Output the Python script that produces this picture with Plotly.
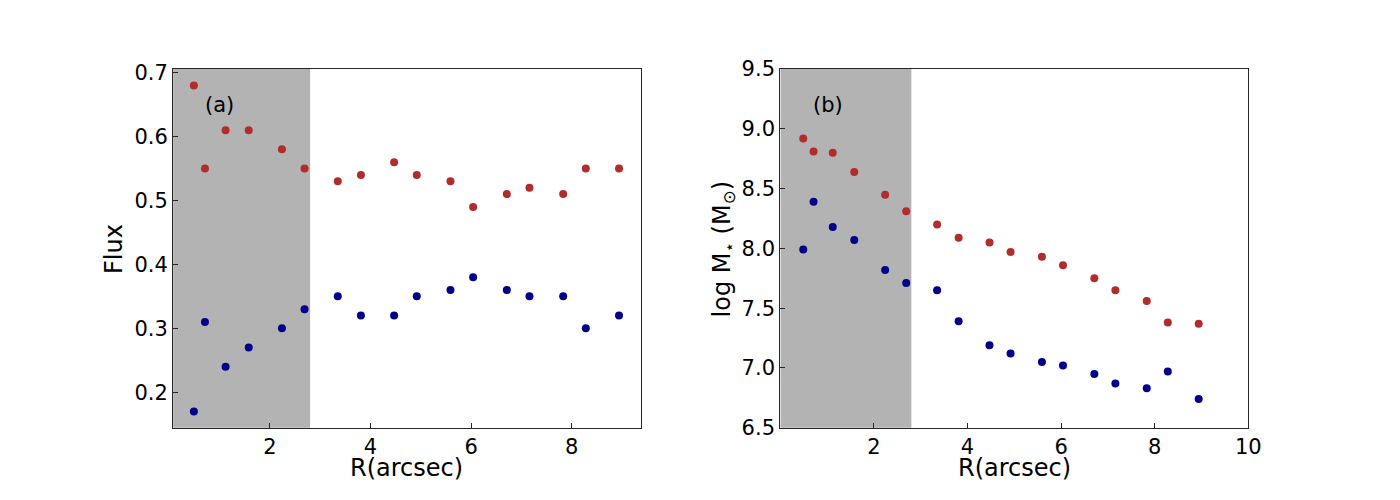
import plotly.graph_objs as go

# radius of each annulus (arcsec), shared by both panels
radius = [0.49, 0.71, 1.12, 1.58, 2.24, 2.69, 3.35, 3.81, 4.47, 4.92,
          5.59, 6.04, 6.71, 7.16, 7.83, 8.28, 8.94]

# panel (a): flux
flux_red = [0.68, 0.55, 0.61, 0.61, 0.58, 0.55, 0.53, 0.54, 0.56, 0.54,
            0.53, 0.49, 0.51, 0.52, 0.51, 0.55, 0.55]
flux_blue = [0.17, 0.31, 0.24, 0.27, 0.30, 0.33, 0.35, 0.32, 0.32, 0.35,
             0.36, 0.38, 0.36, 0.35, 0.35, 0.30, 0.32]

# panel (b): log stellar mass
mass_red = [8.92, 8.81, 8.80, 8.64, 8.45, 8.31, 8.20, 8.09, 8.05, 7.97,
            7.93, 7.86, 7.75, 7.65, 7.56, 7.38, 7.37]
mass_blue = [7.99, 8.39, 8.18, 8.07, 7.82, 7.71, 7.65, 7.39, 7.19, 7.12,
             7.05, 7.02, 6.95, 6.87, 6.83, 6.97, 6.74]

shade_end = 2.8  # shaded inner region (arcsec)

RED = '#b22c2c'
BLUE = '#00008b'
FONT = 'DejaVu Sans'

fig = go.Figure()

def dots(x, y, color, xa, ya):
    return go.Scatter(x=x, y=y, mode='markers', xaxis=xa, yaxis=ya,
                      marker=dict(size=8, color=color, line=dict(width=0)),
                      showlegend=False, hoverinfo='x+y')

fig.add_trace(dots(radius, flux_red, RED, 'x', 'y'))
fig.add_trace(dots(radius, flux_blue, BLUE, 'x', 'y'))
fig.add_trace(dots(radius, mass_red, RED, 'x2', 'y2'))
fig.add_trace(dots(radius, mass_blue, BLUE, 'x2', 'y2'))

axis_style = dict(showgrid=False, zeroline=False, showline=True, mirror=True,
                  linecolor='#262626', linewidth=1.2, ticks='inside',
                  ticklen=5, tickwidth=1.2, tickcolor='#262626',
                  tickfont=dict(family=FONT, size=21, color='black'))
title_font = dict(family=FONT, size=24, color='black')

x1_range = [0.077, 9.37]
x2_range = [0.0, 10.0]

fig.update_layout(
    width=1400, height=500,
    margin=dict(l=0, r=0, t=0, b=0),
    paper_bgcolor='white', plot_bgcolor='white',
    font=dict(family=FONT),
    xaxis=dict(axis_style, domain=[0.1248, 0.4619], range=x1_range,
               tickvals=[2, 4, 6, 8], anchor='y'),
    yaxis=dict(axis_style, domain=[0.1266, 0.88], range=[0.1445, 0.7055],
               tickvals=[0.2, 0.3, 0.4, 0.5, 0.6, 0.7], tickformat='.1f',
               anchor='x'),
    xaxis2=dict(axis_style, domain=[0.5626, 0.9], range=x2_range,
                tickvals=[2, 4, 6, 8, 10], anchor='y2'),
    yaxis2=dict(axis_style, domain=[0.1266, 0.88], range=[6.5, 9.5],
                tickvals=[6.5, 7.0, 7.5, 8.0, 8.5, 9.0, 9.5], tickformat='.1f',
                anchor='x2'),
)

# shaded inner region
fig.add_shape(type='rect', xref='x', yref='y domain', x0=x1_range[0], x1=shade_end,
              y0=0, y1=1, fillcolor='#b3b3b3', line=dict(width=0), layer='below')
fig.add_shape(type='rect', xref='x2', yref='y2 domain', x0=x2_range[0], x1=shade_end,
              y0=0, y1=1, fillcolor='#b3b3b3', line=dict(width=0), layer='below')

# axis titles as paper annotations (placed to match the original)
titles = [
    ('R(arcsec)', 0.2934, 0.042, 0),
    ('R(arcsec)', 0.7313, 0.042, 0),
    ('Flux', 0.0818, 0.503, -90),
    ('log M<sub>⋆</sub> (M<sub>⊙</sub>)', 0.5219, 0.503, -90),
]
for text, x, y, angle in titles:
    fig.add_annotation(x=x, y=y, xref='paper', yref='paper', text=text,
                       textangle=angle, showarrow=False, font=title_font,
                       xanchor='center', yanchor='middle')

# panel letters
fig.add_annotation(x=1.0, y=0.649, xref='x', yref='y', text='(a)', showarrow=False,
                   font=dict(family=FONT, size=21, color='black'))
fig.add_annotation(x=1.02, y=9.20, xref='x2', yref='y2', text='(b)', showarrow=False,
                   font=dict(family=FONT, size=21, color='black'))

# page body has a default 8px margin; drop it so the figure sits at the corner
fig.write_html('out.html', config={'displayModeBar': False},
               post_script="document.body.style.margin='0';")
